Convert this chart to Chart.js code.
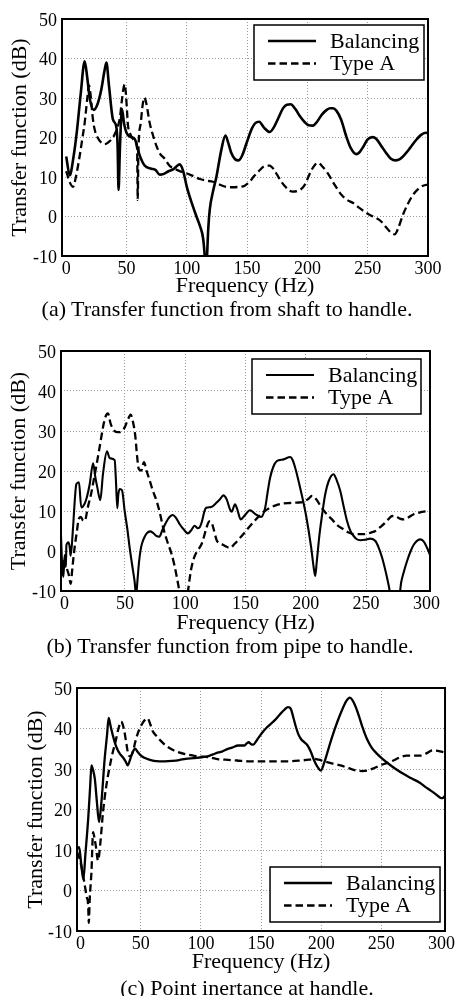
<!DOCTYPE html>
<html>
<head>
<meta charset="utf-8">
<title>Transfer functions</title>
<script src="https://cdn.jsdelivr.net/npm/chart.js@4.4.1/dist/chart.umd.min.js"></script>
<style>
  html, body { margin: 0; padding: 0; background: #fff; }
  #page { position: relative; width: 457px; height: 996px; overflow: hidden;
          font-family: "Liberation Serif", "Times New Roman", serif; color: #000; }
  #page canvas { position: absolute; left: 0; }
  .caption { position: absolute; width: 440px; text-align: center; font-size: 22px;
             line-height: 24px; white-space: nowrap; }
</style>
</head>
<body>
<div id="page">
  <canvas id="chartShaft" width="457" height="301" style="top:0px"></canvas>
  <div class="caption" style="top:297px;left:7px">(a) Transfer function from shaft to handle.</div>
  <canvas id="chartPipe" width="457" height="308" style="top:330px"></canvas>
  <div class="caption" style="top:634px;left:10px">(b) Transfer function from pipe to handle.</div>
  <canvas id="chartInert" width="457" height="317" style="top:660px"></canvas>
  <div class="caption" style="top:976px;left:27px">(c) Point inertance at handle.</div>
</div>
<script>
const FONT = '"Liberation Serif", "Times New Roman", serif';

const freqTicks = [0, 50, 100, 150, 200, 250, 300];
const dbTicks = [-10, 0, 10, 20, 30, 40, 50];
const seriesNames = ['Balancing', 'Type A'];

// (a) shaft -> handle
const shaftBalFreq = [0, 2.9, 6, 9, 12, 15.3, 17.5, 19.5, 22.8, 26, 29, 31.5, 33.3, 35.5, 38.8, 41.5, 42.6, 43.4, 44.5, 46.2,
  48, 50, 53, 56.8, 59, 61, 65, 70.6, 74, 77.5, 81, 84.4, 89, 94.1, 97, 100, 104, 108, 111, 113.5,
  114.8, 115.8, 116.8, 117.8, 119, 121.7, 124.5, 128.7, 132, 134.5, 137, 140, 143, 146, 150, 154, 157, 160, 164, 168.7,
  172, 176, 180, 183, 186.2, 190, 194, 198, 201, 204.6, 208, 212, 216, 219, 221.2, 224, 228, 232, 236, 240.6,
  243, 246, 250, 253.9, 257, 261, 265, 269, 273.2, 277, 281, 285, 290, 294, 298, 300];
const shaftBalDb = [15.2, 10.4, 15, 22, 31, 39.3, 35, 29.9, 27, 28.5, 32, 36.5, 39, 33, 24.5, 22.8, 18, 6.7, 17, 27.2,
  23.5, 21.2, 20.2, 19.6, 17.5, 15.4, 12.9, 12.1, 11.8, 10.6, 10.8, 11.4, 12, 13.2, 11.5, 7.5, 3.5, 0, -2.5, -5.5,
  -9.9, -16, -9.9, -3, 1.7, 6.3, 10, 17, 20.5, 18.5, 16, 14.5, 14.2, 15.5, 19, 22.3, 23.7, 24, 22.5, 21.4,
  22.5, 25, 27.5, 28.3, 28.4, 27.2, 25.3, 23.8, 23.1, 23, 24, 25.8, 27, 27.4, 27.4, 26.8, 24.5, 20.5, 17.3, 15.8,
  16.2, 17.5, 19.5, 20.1, 19.7, 18, 16.2, 14.7, 14.2, 14.6, 15.8, 17.3, 19.3, 20.6, 21.2, 21.1];
const shaftTypeFreq = [0, 2.5, 5.6, 8, 11.2, 13.5, 15.3, 17.5, 18.9, 20.5, 22, 23.6, 26, 29.2, 31.9, 35, 38.8, 40.5, 43, 44.5,
  46, 47.5, 48.5, 49.5, 51.3, 53, 55.4, 57.5, 58.8, 59.3, 59.8, 61.8, 63.5, 64.8, 66.5, 69.2, 72, 74.8, 78, 81.7,
  85.8, 90, 94.1, 98.3, 104, 110.7, 116, 121.7, 127, 132.8, 138, 143, 148, 152, 156, 160.4, 164, 168.7, 172, 175,
  178, 181, 184.5, 188, 192, 195, 197.8, 200.5, 203.3, 206, 208.8, 212, 217.2, 222, 228.2, 233, 237.9, 243, 249, 253,
  257, 261, 265.5, 269, 272.4, 275, 279.3, 283, 287.6, 292, 296, 300];
const shaftTypeDb = [11.5, 9, 7.5, 10, 15.4, 20, 23.7, 30, 33.2, 30, 25, 22, 20, 18.7, 18.3, 18.8, 20, 21, 23, 25,
  29, 32.5, 33.5, 31, 22.9, 21, 19.6, 19, 17, 4.2, 16, 23.7, 28.5, 30.1, 28.5, 23.7, 20.5, 17.9, 15.8, 14.6,
  12.8, 12.1, 11.5, 11.1, 10.4, 9.5, 9.1, 8.8, 8.1, 7.5, 7.4, 7.5, 7.8, 8.8, 10.3, 11.7, 12.7, 12.9, 12, 10.5,
  9, 7.8, 6.7, 6.3, 6.5, 7, 8, 9.8, 11.7, 13, 13.6, 12.8, 10.8, 8.3, 5.5, 4.2, 3.4, 2.2, 0.9, 0.2,
  -0.4, -1.2, -2.8, -4, -4.5, -3.2, 0.5, 3, 5.5, 7, 7.8, 8.1];

// (b) pipe -> handle
const pipeBalFreq = [-3, -2, -1, 0, 1, 1.5, 3.3, 4.2, 5, 7, 8.5, 9.7, 11.9, 13.8, 16.6, 18.5, 20.8, 23.6, 25.5, 27.1,
  29.6, 31.8, 35.1, 37.4, 41.5, 42.5, 43.7, 44.5, 45.7, 47.6, 49.8, 52, 53.9, 56, 58, 59.3, 60.5, 61.8, 63.4, 65.5,
  68.1, 71, 73.1, 76, 78.6, 81, 84.2, 87, 89.7, 92.5, 95.3, 99, 102.2, 105, 107.8, 110.5, 112.2, 114, 116, 117.4,
  121.6, 126.1, 129, 131.6, 134.4, 137, 138.5, 141.3, 143.2, 146, 149.6, 153.8, 157.9, 162.9, 166.3, 168.5, 170.4, 173, 176, 181.5,
  187, 189, 191.2, 195.3, 200.3, 204.5, 206.5, 207.8, 209, 211.4, 213.5, 216.1, 219, 223, 225.5, 228.6, 231.5, 234.2, 237, 239.7,
  242, 245.2, 249, 253.5, 257.7, 260.5, 263.3, 266.5, 269, 270.5, 277.5, 279, 281.5, 284, 287, 290, 295.1, 298, 301, 303];
const pipeBalDb = [4, -4, -6.5, -1, -4, 1.5, 2.2, 1, -1.2, 5.9, 13, 16.7, 17.2, 10.9, 11.8, 13.5, 16.7, 21.9, 18.4, 15.9,
  12.7, 19.2, 24.9, 23.2, 22.7, 18, 10.7, 14, 15.5, 15.2, 10, 5.5, 0.9, -3.5, -7.5, -11, -7, -2.5, 0.9, 3,
  4.4, 4.9, 4.6, 3.8, 3.6, 5.2, 7.2, 8.5, 9, 8.2, 6.75, 5.3, 4.4, 5.2, 6.3, 5.7, 6, 7.5, 10, 10.8,
  11, 12.1, 13, 13.9, 12.9, 10.5, 9.8, 11.7, 10.4, 7.9, 9, 10.2, 9.3, 8.5, 10.8, 15, 18.3, 21, 22.5, 22.9,
  23.5, 22.8, 20.8, 15.8, 8.75, 0.8, -4, -6.25, -3, 4.2, 9, 14.2, 17.5, 19.2, 17.8, 15, 11, 7.5, 5, 3.75,
  3, 2.7, 2.8, 3.1, 2.5, 0.8, -1.7, -5.5, -9, -11.5, -11.5, -8, -5, -2.5, 0, 1.8, 2.9, 2.3, 0.5, -1];
const pipeTypeFreq = [-3, -1.5, -0.5, 1, 2.5, 3.5, 5, 6.5, 8.3, 10, 11.7, 13.5, 15.3, 16.7, 19.2, 21.9, 24, 26.1, 29, 32.6,
  34.5, 36, 38, 40.1, 42.5, 45.6, 47.5, 49.8, 52, 54.8, 56.5, 58.6, 60, 61.5, 63.6, 65.8, 68, 70.6, 73, 76.2,
  79, 81.7, 85, 88.7, 91, 93.6, 95.6, 98, 101.9, 104.7, 107, 109.4, 113.6, 115.5, 117.7, 120, 121.5, 123.3, 126.1, 128.5,
  131.6, 134, 137.2, 141, 145.5, 149.5, 153.8, 158, 162.1, 166, 170.4, 175, 181.5, 187, 192.6, 198.1, 202, 205, 207, 209.2,
  211.5, 214.2, 218, 221.7, 226, 231.3, 235, 239.7, 245, 250.8, 254, 257.7, 261, 264.6, 268, 271.6, 275, 278, 281.2, 285,
  289.5, 293, 296.5, 300, 303];
const pipeTypeDb = [-2, -4, -2.5, -3.5, -5, -6, -8.2, -4, 0.9, 4.5, 8, 8.5, 7.6, 7.5, 10.9, 14.2, 17.5, 20.9, 25.9, 32.1,
  34, 34.4, 32, 30.5, 29.8, 29.7, 30, 30.9, 32.5, 34.1, 32.5, 28.8, 24, 20.5, 20.1, 22.2, 20, 17.6, 15.2, 12.6,
  9.5, 5.9, 2.5, -0.75, -3.5, -7.4, -10.6, -13, -10.6, -4.9, -2, -0.3, 1.75, 3.5, 5.9, 7.4, 7.3, 5.8, 2.7, 1.9,
  1.5, 1.1, 0.8, 1.8, 3.3, 4.7, 6.25, 7.7, 9, 10, 10.8, 11.4, 11.9, 12, 12.1, 12.3, 13, 13.75, 13.5, 12.7,
  11.6, 10.4, 9, 7.9, 6.5, 5.4, 4.7, 4.2, 4.2, 4.3, 4.6, 5, 5.8, 6.7, 7.8, 8.75, 8.6, 8.1, 7.9, 8.4,
  9.2, 9.5, 9.8, 9.9, 9.75];

// (c) point inertance at handle
const inertBalFreq = [-3, -1.2, 0.5, 2.3, 4, 6.3, 8, 9, 10.3, 11.8, 13.5, 15.3, 17.3, 20, 22, 23.3, 25, 26.8, 28.8, 30.9,
  33, 35.1, 37.5, 39.2, 41, 42.8, 45.3, 47.5, 50.2, 53.5, 57, 61, 65.3, 70, 76.2, 82, 87.2, 94, 100.9, 106.4,
  110, 114.6, 117.4, 121, 126, 131.1, 136, 138, 139.9, 141.5, 143.5, 146.5, 150.3, 155, 161.3, 166, 170, 172.3, 173.8, 175,
  177, 179.1, 181, 183.2, 186, 188.7, 191.5, 194.2, 197, 199.7, 202.5, 205.2, 209, 213.4, 218, 221, 223.9, 226, 228.5, 231.3,
  234.5, 238.1, 242, 246.3, 251, 256, 262, 268.3, 275, 282, 287.5, 293, 296.5, 299.8, 301.5, 303];
const inertBalDb = [10.3, 10.7, 6.5, 2.8, 9, 17.7, 26, 30.9, 29.8, 27.6, 22, 16.9, 21.8, 32.5, 38.5, 42.6, 40.5, 38.3, 36.2, 34.6,
  33.6, 32.9, 31.8, 30.9, 32.2, 33.8, 35, 34.2, 33.3, 32.7, 32.3, 32, 31.9, 31.9, 32, 32.2, 32.5, 32.7, 32.9, 33.2,
  33.6, 34.1, 34.3, 34.8, 35.3, 35.8, 35.8, 36.3, 36.6, 36.2, 36, 37.1, 38.7, 40.3, 42, 43.6, 44.8, 45.3, 45.2, 44.7,
  42.6, 40.3, 38.6, 37.4, 36.6, 35.8, 34.2, 32.1, 30.5, 29.6, 31.5, 34.1, 37.8, 41.6, 45, 46.8, 47.6, 47, 45.5, 43.2,
  40.2, 37.4, 35.3, 33.8, 32.5, 31.3, 30, 28.8, 27.7, 26.6, 25.4, 24.3, 23.5, 22.8, 22.9, 23.5];
const inertTypeFreq = [-3, -1, 1, 3.5, 5, 6.3, 6.8, 7.6, 9, 10.4, 11.5, 12.6, 14.5, 16.5, 18.6, 21.4, 25.5, 29.6, 31.5, 33.7,
  35, 36.5, 38.2, 40, 41.5, 43.3, 45.3, 47.4, 50, 52.5, 55.6, 58, 60, 62.6, 66.5, 70.8, 76, 81.7, 88, 95.5,
  106.4, 114.6, 120.2, 130, 139.3, 150, 161.3, 172, 183.2, 190, 194.2, 198, 202.4, 209, 216.1, 223, 229.9, 234, 238.1, 243,
  249.1, 255, 260.1, 265, 271, 276, 282, 287, 293, 297, 300, 303];
const inertTypeDb = [9.5, 8, 5.5, 1.2, -1.5, -3.7, -8, -2, 4.5, 14.4, 13, 11.1, 7.4, 12, 19.3, 25.9, 32.5, 37.5, 40, 41.7,
  41, 39.1, 36, 33.3, 33.2, 34.1, 36.5, 38.7, 40.5, 41.8, 42.5, 41, 39.3, 38.3, 37, 35.8, 34.8, 34.1, 33.6, 33.2,
  32.9, 32.4, 32.3, 32.1, 31.9, 31.9, 31.9, 31.9, 32.1, 32.3, 32.5, 32.3, 31.9, 31.4, 30.9, 30.2, 29.6, 29.5, 29.6, 30.1,
  30.9, 31.5, 32.1, 32.8, 33.3, 33.3, 33.3, 33.8, 34.6, 34.5, 34.3, 34.1];

function toPoints(freq, db) {
  return freq.map((f, i) => ({ x: f, y: db[i] }));
}

// box around the plot area plus the boxed key inside it
const frameAndKey = {
  id: 'frameAndKey',
  afterDatasetsDraw(chart, args, opts) {
    const { ctx, chartArea: a } = chart;
    ctx.save();
    ctx.setLineDash([]);
    ctx.strokeStyle = '#000';
    ctx.lineWidth = 2;
    ctx.strokeRect(a.left, a.top, a.right - a.left, a.bottom - a.top);

    const w = opts.width, h = 55;
    const x = a.right - opts.right - w;
    const y = opts.corner === 'bottom' ? a.bottom - opts.bottom - h : a.top + opts.top;
    ctx.fillStyle = '#fff';
    ctx.fillRect(x, y, w, h);
    ctx.lineWidth = 1.5;
    ctx.strokeRect(x, y, w, h);

    ctx.font = '22px ' + FONT;
    ctx.textBaseline = 'middle';
    chart.data.datasets.forEach((ds, i) => {
      const ly = y + 16 + i * 22.5;
      ctx.beginPath();
      ctx.setLineDash(ds.borderDash || []);
      ctx.lineWidth = ds.borderWidth;
      ctx.moveTo(x + 14, ly);
      ctx.lineTo(x + 62, ly);
      ctx.stroke();
      ctx.setLineDash([]);
      ctx.fillStyle = '#000';
      ctx.fillText(ds.label, x + 76, ly + 1);
    });
    ctx.restore();
  },
};

function drawPanel(id, p, series) {
  const canvas = document.getElementById(id);
  const H = canvas.height;
  const axisH = H - (p.plotB - p.top);
  const hideEdge = (edges) => (c) => (c.tick && edges.includes(c.tick.value)) ? 'rgba(0,0,0,0)' : '#9a9a9a';

  return new Chart(canvas, {
    type: 'line',
    data: {
      datasets: series.map((s) => ({
        label: s.label,
        data: toPoints(s.freq, s.db),
        borderColor: '#000',
        borderWidth: s.width,
        borderDash: s.dash,
        pointRadius: 0,
        fill: false,
        cubicInterpolationMode: 'monotone',
      })),
    },
    options: {
      responsive: false,
      animation: false,
      devicePixelRatio: 1,
      layout: { padding: { top: p.plotT - p.top, right: 457 - p.plotR, bottom: 0, left: 0 } },
      plugins: { legend: { display: false }, tooltip: { enabled: false }, frameAndKey: p.key },
      scales: {
        x: {
          type: 'linear', min: p.xMin, max: p.xMax,
          afterFit: (s) => { s.height = axisH; },
          afterBuildTicks: (s) => { s.ticks = freqTicks.map((v) => ({ value: v })); },
          grid: { color: hideEdge([0, 300]), lineWidth: 1, drawTicks: false },
          border: { display: false, dash: [1, 2] },
          ticks: { color: '#000', font: { family: FONT, size: 18 }, padding: 2, maxRotation: 0, autoSkip: false },
          title: { display: true, text: 'Frequency (Hz)', color: '#000',
                   font: { family: FONT, size: 22, lineHeight: 1 }, padding: { top: 0, bottom: 4 } },
        },
        y: {
          min: -10, max: 50,
          afterFit: (s) => { s.width = p.plotL; },
          afterBuildTicks: (s) => { s.ticks = dbTicks.map((v) => ({ value: v })); },
          grid: { color: hideEdge([-10, 50]), lineWidth: 1, drawTicks: false },
          border: { display: false, dash: [1, 2] },
          ticks: { color: '#000', font: { family: FONT, size: 18 }, padding: 5, labelOffset: 2, autoSkip: false },
          title: { display: true, text: 'Transfer function (dB)', color: '#000',
                   font: { family: FONT, size: 22, lineHeight: 1 }, padding: { top: p.yTitlePad, bottom: 0 } },
        },
      },
    },
    plugins: [frameAndKey],
  });
}

drawPanel('chartShaft',
  { top: 0, plotL: 62, plotR: 428, plotT: 19, plotB: 256, xMin: -3.5, xMax: 300, yTitlePad: 9,
    key: { corner: 'top', top: 6, right: 4, width: 170 } },
  [
    { label: seriesNames[0], freq: shaftBalFreq, db: shaftBalDb, width: 2.6, dash: [] },
    { label: seriesNames[1], freq: shaftTypeFreq, db: shaftTypeDb, width: 2.3, dash: [7.5, 4] },
  ]);

drawPanel('chartPipe',
  { top: 330, plotL: 61, plotR: 430, plotT: 351, plotB: 591, xMin: -3, xMax: 303, yTitlePad: 8,
    key: { corner: 'top', top: 8, right: 9, width: 169 } },
  [
    { label: seriesNames[0], freq: pipeBalFreq, db: pipeBalDb, width: 2.1, dash: [] },
    { label: seriesNames[1], freq: pipeTypeFreq, db: pipeTypeDb, width: 2.3, dash: [7.5, 4] },
  ]);

drawPanel('chartInert',
  { top: 660, plotL: 77, plotR: 449, plotT: 688, plotB: 931, xMin: -3, xMax: 303, yTitlePad: 25,
    key: { corner: 'bottom', bottom: 9, right: 5, width: 170 } },
  [
    { label: seriesNames[0], freq: inertBalFreq, db: inertBalDb, width: 2.3, dash: [] },
    { label: seriesNames[1], freq: inertTypeFreq, db: inertTypeDb, width: 2.3, dash: [7.5, 4] },
  ]);
</script>
</body>
</html>
